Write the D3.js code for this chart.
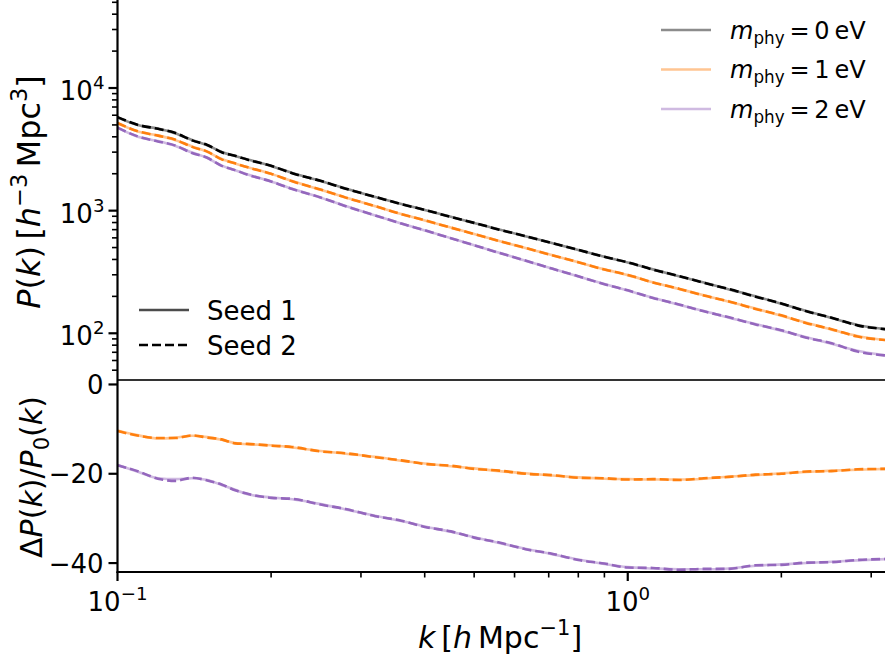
<!DOCTYPE html>
<html>
<head>
<meta charset="utf-8">
<script src="https://cdn.jsdelivr.net/npm/d3@7"></script>
<style>
  html, body { margin: 0; padding: 0; background: #fff; }
  svg { display: block; font-family: "DejaVu Sans", sans-serif; }
</style>
</head>
<body>
<svg id="chart" width="885" height="661"></svg>
<script>
// Wavenumbers k [h/Mpc]
const kVals = [0.10,0.11,0.12,0.13,0.14,0.15,0.16,0.17,0.18,0.20,0.22,0.25,0.28,0.32,0.36,0.40,0.45,0.50,0.56,0.63,0.71,0.80,0.90,1.00,1.12,1.26,1.41,1.58,1.78,2.00,2.24,2.51,2.82,3.20];

// Power spectra, seed 1
const pk0Seed1 = [5768,4965,4676,4264,3767,3417,3008,2790,2612,2312,2028,1745,1516,1292,1133,1012,891,793,702,619,545,478,421,378,332,292,259,228,200,174,152,133,117,108];
const pk1Seed1 = [5174,4399,4110,3757,3334,3014,2635,2425,2262,1995,1742,1483,1281,1087,938,833,728,644,566,496,434,379,332,298,261,230,204,181,159,139,122,107,95,88];
const pk2Seed1 = [4730,3992,3694,3360,2976,2686,2331,2132,1969,1727,1507,1277,1092,912,786,690,597,522,453,391,338,291,252,223,195,171,152,134,119,105,93,82,72,66];

// Power spectra, seed 2
const pk0Seed2 = [5790,4990,4650,4290,3740,3430,2990,2800,2600,2320,2020,1750,1510,1295,1130,1015,889,795,700,620,544,479,420,379,331,293,258,229,199,175,151,134,116,108];
const pk1Seed2 = [5190,4420,4090,3780,3310,3030,2620,2430,2255,2000,1735,1487,1277,1089,936,835,727,645,565,497,433,380,331,299,260,231,203,182,158,140,121,108,94,88];
const pk2Seed2 = [4750,4010,3670,3390,2950,2700,2320,2140,1960,1730,1500,1280,1088,915,784,692,596,523,452,392,337,292,251,224,194,172,151,135,118,106,92,83,71,66];

// Relative difference to the massless case, in percent
const dp1Seed1 = [-10.3,-11.4,-12.1,-11.9,-11.5,-11.8,-12.4,-13.1,-13.4,-13.6,-14.1,-14.9,-15.5,-16.2,-17.1,-17.7,-18.3,-18.8,-19.4,-19.9,-20.4,-20.8,-21.1,-21.2,-21.3,-21.3,-21.1,-20.6,-20.3,-19.9,-19.6,-19.3,-19.1,-18.9];
const dp2Seed1 = [-18.0,-19.6,-21.0,-21.2,-21.0,-21.4,-22.5,-23.6,-24.6,-25.3,-25.7,-26.8,-28.0,-29.4,-30.6,-31.8,-33.0,-34.2,-35.5,-36.8,-38.0,-39.2,-40.2,-40.9,-41.2,-41.4,-41.4,-41.2,-40.6,-40.3,-40.0,-39.7,-39.4,-39.1];
const dp1Seed2 = [-10.4,-11.5,-12.0,-12.0,-11.4,-11.9,-12.3,-13.2,-13.3,-13.7,-14.0,-15.0,-15.4,-16.3,-17.0,-17.8,-18.2,-18.9,-19.3,-20.0,-20.3,-20.9,-21.0,-21.3,-21.2,-21.4,-21.0,-20.7,-20.2,-20.0,-19.5,-19.4,-19.0,-18.9];
const dp2Seed2 = [-18.1,-19.5,-21.1,-21.6,-20.9,-21.5,-22.4,-23.7,-24.5,-25.4,-25.6,-26.9,-27.9,-29.5,-30.5,-31.9,-32.9,-34.3,-35.4,-36.9,-37.9,-39.3,-40.1,-41.0,-41.1,-41.5,-41.3,-41.3,-40.5,-40.4,-39.9,-39.8,-39.3,-39.1];

const massLabels = ["0", "1", "2"];
const colors = ["#000000", "#ff7f0e", "#9467bd"];
const yMajorTop = [1e2, 1e3, 1e4];
const yTicksBottom = [0, -20, -40];
const xMajor = [0.1, 1];
const xMinor = [0.2, 0.3, 0.4, 0.5, 0.6, 0.7, 0.8, 0.9, 2, 3];
const seedNames = ["Seed 1", "Seed 2"];

const svg = d3.select("#chart");
const left = 117.5, right = 885.5;
const topY0 = 0, topY1 = 380, botY0 = 380, botY1 = 572;

const x = d3.scaleLog().domain([0.1, 3.2]).range([left, right]);
const yTop = d3.scaleLog().domain([41.6, 52200]).range([topY1, topY0]);
const yBot = d3.scaleLinear().domain([-42, 1]).range([botY1, botY0]);

const FS = 26;       // tick labels
const FS_LAB = 30;   // axis labels
const FS_SEED = 26;  // seed legend
const FS_MASS = 24;  // mass legend

// Mixed-style text: parts are {t, it, sup, sub}
function rich(sel, parts, size) {
  let shift = 0;
  parts.forEach(p => {
    const ts = sel.append("tspan").text(p.t);
    let target = 0, fs = size;
    if (p.sup) { target = -0.42 * size; fs = size * 0.7; }
    if (p.sub) { target = 0.22 * size; fs = size * 0.7; }
    ts.attr("dy", target - shift).attr("font-size", fs);
    if (p.it) ts.attr("font-style", "italic");
    shift = target;
  });
  return sel;
}

const defs = svg.append("defs");
defs.append("clipPath").attr("id", "clipTop").append("rect")
  .attr("x", left).attr("y", topY0).attr("width", right - left).attr("height", topY1 - topY0);
defs.append("clipPath").attr("id", "clipBot").append("rect")
  .attr("x", left).attr("y", botY0).attr("width", right - left).attr("height", botY1 - botY0);

const lineTop = d3.line().x((d, i) => x(kVals[i])).y(d => yTop(d)).curve(d3.curveMonotoneX);
const lineBot = d3.line().x((d, i) => x(kVals[i])).y(d => yBot(d)).curve(d3.curveMonotoneX);

const LW = 2.6;
const DASH = "9,4";

// Top panel: P(k) for each mass, seed 1 solid (faded) and seed 2 dashed
const gTop = svg.append("g").attr("clip-path", "url(#clipTop)");
[pk0Seed1, pk1Seed1, pk2Seed1].forEach((s, i) => {
  gTop.append("path").attr("d", lineTop(s)).attr("fill", "none")
    .attr("stroke", colors[i]).attr("stroke-opacity", 0.45).attr("stroke-width", LW);
});
[pk0Seed2, pk1Seed2, pk2Seed2].forEach((s, i) => {
  gTop.append("path").attr("d", lineTop(s)).attr("fill", "none")
    .attr("stroke", colors[i]).attr("stroke-width", LW).attr("stroke-dasharray", DASH);
});

// Bottom panel: relative difference to the massless spectrum
const gBot = svg.append("g").attr("clip-path", "url(#clipBot)");
[dp1Seed1, dp2Seed1].forEach((s, i) => {
  gBot.append("path").attr("d", lineBot(s)).attr("fill", "none")
    .attr("stroke", colors[i + 1]).attr("stroke-opacity", 0.45).attr("stroke-width", LW);
});
[dp1Seed2, dp2Seed2].forEach((s, i) => {
  gBot.append("path").attr("d", lineBot(s)).attr("fill", "none")
    .attr("stroke", colors[i + 1]).attr("stroke-width", LW).attr("stroke-dasharray", DASH);
});

// divider between the panels
svg.append("line").attr("x1", left).attr("x2", right).attr("y1", botY0).attr("y2", botY0)
  .attr("stroke", "#333").attr("stroke-width", 2);

// Axes
const axG = svg.append("g");
axG.append("line").attr("x1", left).attr("x2", left).attr("y1", 0).attr("y2", botY1 + 1)
  .attr("stroke", "#000").attr("stroke-width", 2.2);
axG.append("line").attr("x1", left - 1).attr("x2", right).attr("y1", botY1).attr("y2", botY1)
  .attr("stroke", "#000").attr("stroke-width", 2.2);

// top panel: log ticks
const yMinorTop = [];
[10, 100, 1000, 10000].forEach(dec => {
  for (let m = 2; m <= 9; m++) {
    const v = dec * m;
    if (v > yTop.domain()[0] && v < yTop.domain()[1]) yMinorTop.push(v);
  }
});
yMinorTop.forEach(v => {
  axG.append("line").attr("x1", left - 5.5).attr("x2", left).attr("y1", yTop(v)).attr("y2", yTop(v))
    .attr("stroke", "#000").attr("stroke-width", 1.6);
});
yMajorTop.forEach(v => {
  const yy = yTop(v);
  axG.append("line").attr("x1", left - 9).attr("x2", left).attr("y1", yy).attr("y2", yy)
    .attr("stroke", "#000").attr("stroke-width", 2.2);
  const t = axG.append("text").attr("x", left - 13).attr("y", yy + 12).attr("text-anchor", "end")
    .attr("font-size", FS).attr("fill", "#000");
  rich(t, [{t: "10"}, {t: String(Math.round(Math.log10(v))), sup: true}], FS);
});

// bottom panel: linear ticks
yTicksBottom.forEach(v => {
  const yy = yBot(v);
  axG.append("line").attr("x1", left - 9).attr("x2", left).attr("y1", yy).attr("y2", yy)
    .attr("stroke", "#000").attr("stroke-width", 2.2);
  axG.append("text").attr("x", left - 14).attr("y", yy + 9.5).attr("text-anchor", "end")
    .attr("font-size", FS).attr("fill", "#000")
    .text(v < 0 ? "\u2212" + Math.abs(v) : String(v));
});

// x ticks
xMinor.forEach(v => {
  axG.append("line").attr("x1", x(v)).attr("x2", x(v)).attr("y1", botY1).attr("y2", botY1 + 5.5)
    .attr("stroke", "#000").attr("stroke-width", 1.6);
});
xMajor.forEach(v => {
  axG.append("line").attr("x1", x(v)).attr("x2", x(v)).attr("y1", botY1).attr("y2", botY1 + 9)
    .attr("stroke", "#000").attr("stroke-width", 2.2);
  const t = axG.append("text").attr("x", x(v)).attr("y", botY1 + 39).attr("text-anchor", "middle")
    .attr("font-size", FS).attr("fill", "#000");
  const e = Math.round(Math.log10(v));
  rich(t, [{t: "10"}, {t: e < 0 ? "\u2212" + Math.abs(e) : String(e), sup: true}], FS);
});

// Axis labels
const yl1 = svg.append("text").attr("transform", "translate(40,192) rotate(-90)")
  .attr("text-anchor", "middle").attr("font-size", 32).attr("fill", "#000");
rich(yl1, [{t: "P", it: true}, {t: "("}, {t: "k", it: true}, {t: ")\u2009["}, {t: "h", it: true},
  {t: "\u22123", sup: true}, {t: "\u2009Mpc"}, {t: "3", sup: true}, {t: "]"}], 32);

const yl2 = svg.append("text").attr("transform", "translate(42,477) rotate(-90)")
  .attr("text-anchor", "middle").attr("font-size", FS_LAB).attr("fill", "#000");
rich(yl2, [{t: "\u0394"}, {t: "P", it: true}, {t: "("}, {t: "k", it: true}, {t: ")/"},
  {t: "P", it: true}, {t: "0", sub: true}, {t: "("}, {t: "k", it: true}, {t: ")"}], FS_LAB);

const xl = svg.append("text").attr("x", 500).attr("y", 648)
  .attr("text-anchor", "middle").attr("font-size", FS_LAB).attr("fill", "#000");
rich(xl, [{t: "k", it: true}, {t: "\u2009["}, {t: "h", it: true}, {t: "\u2009Mpc"},
  {t: "\u22121", sup: true}, {t: "]"}], FS_LAB);

// Legend: masses
const legM = svg.append("g");
massLabels.forEach((m, i) => {
  const yy = 30 + i * 39.5;
  legM.append("line").attr("x1", 661).attr("x2", 711).attr("y1", yy).attr("y2", yy)
    .attr("stroke", colors[i]).attr("stroke-opacity", 0.45).attr("stroke-width", LW);
  const t = legM.append("text").attr("x", 730).attr("y", yy + 8.5).attr("font-size", FS_MASS).attr("fill", "#000");
  rich(t, [{t: "m", it: true}, {t: "phy", sub: true}, {t: "\u2009=\u2009" + m + "\u2009eV"}], FS_MASS);
});

// Legend: seeds
seedNames.forEach((s, i) => {
  const yy = 310 + i * 35;
  const ln = svg.append("line").attr("x1", 139).attr("x2", 189).attr("y1", yy).attr("y2", yy)
    .attr("stroke-width", LW).attr("stroke", "#000");
  if (i === 0) ln.attr("stroke-opacity", 0.7);
  else ln.attr("stroke-dasharray", DASH);
  svg.append("text").attr("x", 207).attr("y", yy + 9.5).attr("font-size", FS_SEED).attr("fill", "#000").text(s);
});
</script>
</body>
</html>
